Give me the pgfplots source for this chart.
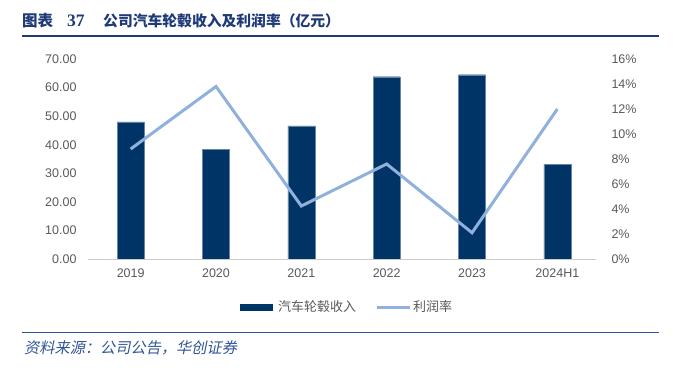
\documentclass[border=0pt]{standalone}
\usepackage{pgfplots}
\pgfplotsset{compat=1.18}
\usepackage{fontspec}
\setmainfont{Liberation Sans}
\newfontfamily\cjk{Noto Sans CJK SC}
\newfontfamily\cjkit[FakeSlant=0.2]{Noto Sans CJK SC}
\newfontfamily\tnr{Liberation Serif}
\definecolor{navy}{HTML}{003366}
\definecolor{lblue}{HTML}{8FB1DB}
\definecolor{tblue}{HTML}{1F3A78}
\definecolor{sblue}{HTML}{2F5597}
\definecolor{tgray}{HTML}{595959}
\begin{document}
\begin{tikzpicture}[x=1pt,y=1pt]
\path[use as bounding box] (0pt,0pt) rectangle (700pt,372pt);
% title
\node[anchor=west, text=tblue, inner sep=0pt, font=\cjk\bfseries\fontsize{15.5}{18}\selectfont] at (22pt,351pt) {图表};
\node[anchor=west, text=tblue, inner sep=0pt, font=\tnr\bfseries\fontsize{17.5}{20}\selectfont] at (67pt,351pt) {37};
\node[anchor=west, text=tblue, inner sep=0pt, font=\cjk\bfseries\fontsize{14.8}{18}\selectfont] at (103pt,351pt) {公司汽车轮毂收入及利润率（亿元）};
\draw[tblue, line width=2pt] (22pt,336pt) -- (659pt,336pt);
\draw[sblue, line width=1.8pt] (22pt,39.5pt) -- (659pt,39.5pt);
\node[anchor=west, text=sblue, inner sep=0pt, font=\cjkit\fontsize{15.2}{17}\selectfont] at (24pt,24pt) {资料来源：公司公告，华创证券};
% bars
\begin{axis}[at={(88pt,113pt)}, anchor=south west, scale only axis,
  width=512pt, height=200pt,
  xmin=-0.5, xmax=5.5, ymin=0, ymax=70,
  ytick={0,10,...,70},
  xtick={0,...,5}, xticklabels={2019,2020,2021,2022,2023,2024H1},
  axis line style={draw=none}, major tick length=0pt,
  /pgf/number format/assume math mode=true,
  yticklabel={\pgfmathprintnumber[fixed,fixed zerofill,precision=2]{\tick}},
  ticklabel style={font=\fontsize{12.5}{14}\selectfont, text=tgray},
  yticklabel style={xshift=-8pt},
  xticklabel style={yshift=-6pt},
  clip=false]
\addplot[ybar, bar width=27pt, fill=navy, draw=navy!60!white, line width=0.4pt] coordinates {(0,48.0) (1,38.4) (2,46.6) (3,63.8) (4,64.5) (5,33.1)};
\draw[gray!40, line width=0.8pt] (axis cs:-0.5,0) -- (axis cs:5.45,0);
\end{axis}
% line
\begin{axis}[at={(88pt,113pt)}, anchor=south west, scale only axis,
  width=512pt, height=200pt,
  xmin=-0.5, xmax=5.5, ymin=0, ymax=16,
  ytick={0,2,...,16},
  axis y line*=right, hide x axis,
  axis line style={draw=none}, major tick length=0pt,
  /pgf/number format/assume math mode=true,
  yticklabel={\pgfmathprintnumber{\tick}\%},
  ticklabel style={font=\fontsize{12.5}{14}\selectfont, text=tgray},
  yticklabel style={xshift=8pt},
  legend columns=2,
  legend style={at={(0.502,-0.24)}, anchor=center, draw=none, fill=none,
    font=\cjk\fontsize{13}{15}\selectfont, text=tgray,
    /tikz/every even column/.append style={column sep=17pt}},
  legend image code/.code={\draw[#1] (0pt,0pt) -- (33pt,0pt);},
  clip=false]
\addlegendimage{navy, line width=7pt}
\addlegendentry{汽车轮毂收入}
\addplot[lblue, line width=3pt, line join=miter, mark=none] coordinates {(0,8.8) (1,13.8) (2,4.24) (3,7.6) (4,2.1) (5,12.0)};
\addlegendentry{利润率}
\end{axis}
\end{tikzpicture}
\end{document}
